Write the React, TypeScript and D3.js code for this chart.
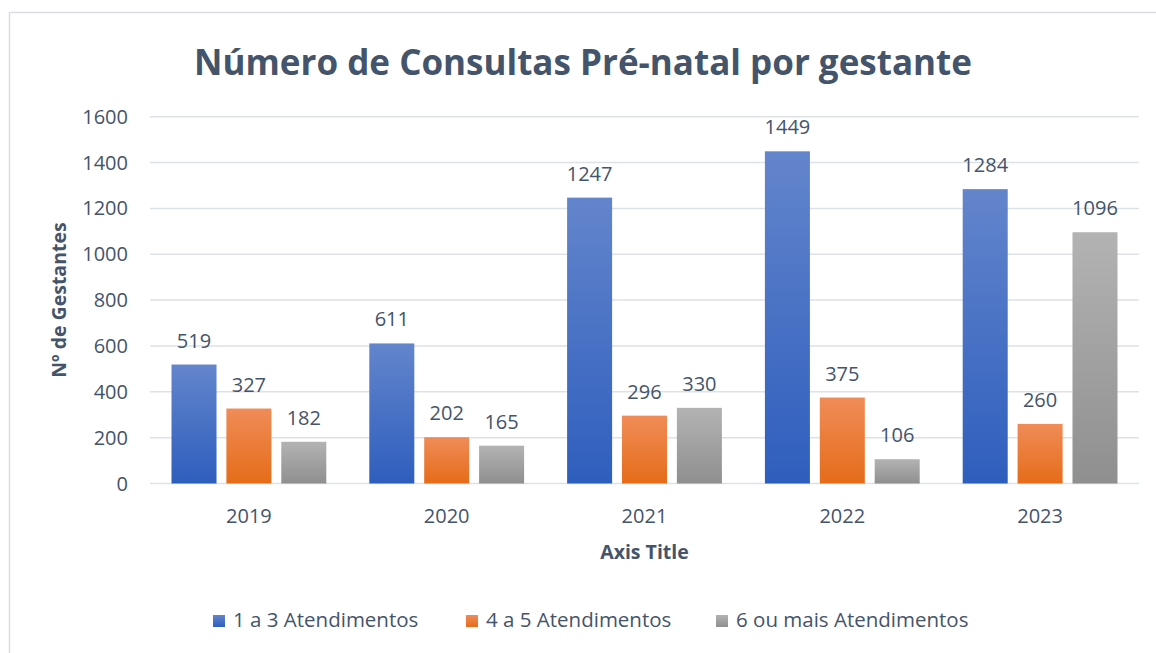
import React from "react";
import * as d3 from "d3";

const years = ["2019", "2020", "2021", "2022", "2023"];
const seriesNames = ["1 a 3 Atendimentos", "4 a 5 Atendimentos", "6 ou mais Atendimentos"];
const s1 = [519, 611, 1247, 1449, 1284];
const s2 = [327, 202, 296, 375, 260];
const s3 = [182, 165, 330, 106, 1096];
const yTicks = [0, 200, 400, 600, 800, 1000, 1200, 1400, 1600];
const title = "Número de Consultas Pré-natal por gestante";
const yTitle = "Nº de Gestantes";
const xTitle = "Axis Title";

const W = 1156;
const H = 653;
const FONT = "'Open Sans', sans-serif";
const TXT = "#44546A";

const gradients = [
  { id: "gBlue", top: "#6385CC", bottom: "#2E5EBD" },
  { id: "gOrange", top: "#F08C58", bottom: "#E56C19" },
  { id: "gGray", top: "#B3B3B3", bottom: "#8F8F8F" },
];

export default function App() {
  const left = 150, right = 1139, top = 116.7, bottom = 483.5;
  const x0 = d3.scaleBand<string>().domain(years).range([left, right]).paddingInner(0).paddingOuter(0);
  const x1 = d3
    .scaleBand<number>()
    .domain([0, 1, 2])
    .range([21.5, x0.bandwidth() - 21.5])
    .paddingInner(0.18)
    .paddingOuter(0);
  const y = d3.scaleLinear().domain([0, 1600]).range([bottom, top]);
  const data = [s1, s2, s3];

  const legendX = [213, 466, 716];

  return (
    <svg width={W} height={H} style={{ position: "absolute", left: 0, top: 0, background: "#fff" }}>
      <defs>
        {gradients.map((g) => (
          <linearGradient key={g.id} id={g.id} x1="0" y1="0" x2="0" y2="1">
            <stop offset="0%" stopColor={g.top} />
            <stop offset="100%" stopColor={g.bottom} />
          </linearGradient>
        ))}
      </defs>
      <rect x={0} y={0} width={W} height={H} fill="#fff" />
      <rect x={9.5} y={12.5} width={1180} height={700} fill="none" stroke="#D9DDE2" strokeWidth={1.5} />
      <text x={583} y={75} textAnchor="middle" fontFamily={FONT} fontWeight={700} fontSize={35} fill={TXT}>
        {title}
      </text>
      {yTicks.map((t) => (
        <g key={t}>
          <line x1={left} x2={right} y1={y(t)} y2={y(t)} stroke="#DDE2E8" strokeWidth={1.5} />
          <text x={128} y={y(t) + 7} textAnchor="end" fontFamily={FONT} fontSize={20} fill={TXT}>
            {t}
          </text>
        </g>
      ))}
      {years.map((yr, i) => (
        <g key={yr} transform={`translate(${x0(yr)},0)`}>
          {data.map((s, k) => {
            const bx = x1(k)!;
            const bw = x1.bandwidth();
            return (
              <g key={k}>
                <rect x={bx} y={y(s[i])} width={bw} height={bottom - y(s[i])} fill={`url(#${gradients[k].id})`} />
                <text
                  x={bx + bw / 2}
                  y={y(s[i]) - 17}
                  textAnchor="middle"
                  fontFamily={FONT}
                  fontSize={20}
                  fill={TXT}
                >
                  {s[i]}
                </text>
              </g>
            );
          })}
          <text x={x0.bandwidth() / 2} y={523} textAnchor="middle" fontFamily={FONT} fontSize={20} fill={TXT}>
            {yr}
          </text>
        </g>
      ))}
      <text x={(left + right) / 2} y={559} textAnchor="middle" fontFamily={FONT} fontWeight={700} fontSize={19.5} fill={TXT}>
        {xTitle}
      </text>
      <text
        transform={`translate(66,${(top + bottom) / 2}) rotate(-90)`}
        textAnchor="middle"
        fontFamily={FONT}
        fontWeight={700}
        fontSize={19.5}
        fill={TXT}
      >
        {yTitle}
      </text>
      {seriesNames.map((n, k) => (
        <g key={n} transform={`translate(${legendX[k]},0)`}>
          <rect x={0} y={615} width={12} height={12} fill={`url(#${gradients[k].id})`} />
          <text x={20} y={627} fontFamily={FONT} fontSize={20.5} fill={TXT}>
            {n}
          </text>
        </g>
      ))}
    </svg>
  );
}
